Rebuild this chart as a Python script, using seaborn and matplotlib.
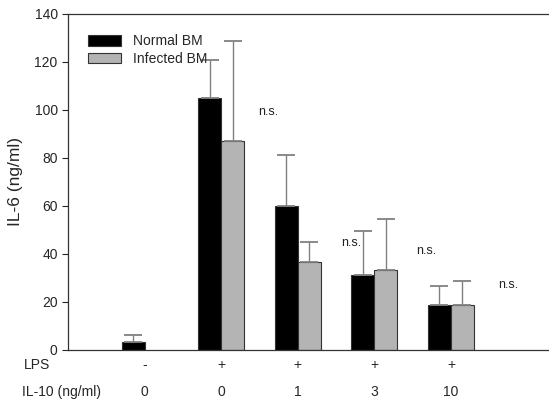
import matplotlib
matplotlib.use('Agg')
import matplotlib.pyplot as plt
import matplotlib.transforms as mtransforms
import seaborn as sns
import pandas as pd
import numpy as np

# %% Data
groups = ['ctrl', 'lps0', 'lps1', 'lps3', 'lps10']
lps_row = ['-', '+', '+', '+', '+']
il10_row = ['0', '0', '1', '3', '10']
normal_bm = [3.3, 104.8, 60.0, 31.0, 18.8]
normal_err = [3.0, 16.0, 21.0, 18.5, 7.9]
infected_bm = [np.nan, 86.8, 36.5, 33.3, 18.8]
infected_err = [np.nan, 42.0, 8.5, 21.4, 9.7]
# n.s. labels (group index, x offset, y)
ns_pos = [(1, 0.48, 99), (2, 0.57, 44.5), (3, 0.54, 41), (4, 0.61, 27)]

df = pd.DataFrame({
    'group': groups * 2,
    'IL6': normal_bm + infected_bm,
    'err': normal_err + infected_err,
    'cond': ['Normal BM'] * 5 + ['Infected BM'] * 5,
})

# %% Plot
sns.set_theme(style='ticks')
plt.rcParams['font.family'] = ['Liberation Sans', 'DejaVu Sans']

fig = plt.figure(figsize=(5.49, 4.04), dpi=100)
ax = fig.add_axes([0.124, 0.134, 0.876, 0.832])

sns.barplot(data=df, x='group', y='IL6', hue='cond', order=groups,
            hue_order=['Normal BM', 'Infected BM'],
            palette=['black', '#b4b4b4'], width=0.6, errorbar=None,
            edgecolor='#333333', linewidth=0.8, ax=ax)

# upward error bars (only the bars that were drawn)
for cont, cond in zip(ax.containers, ['Normal BM', 'Infected BM']):
    sub = df[df.cond == cond].dropna(subset=['IL6'])
    for bar, v, e in zip(cont, sub.IL6, sub.err):
        xc = bar.get_x() + bar.get_width() / 2
        ax.errorbar(xc, v, yerr=[[0], [e]], fmt='none', ecolor='#808080',
                    elinewidth=1, capsize=6.5, capthick=1.3, zorder=1)

for i, dx, y in ns_pos:
    ax.text(i + dx, y, 'n.s.', ha='left', va='center', fontsize=9, color='#222222')

ax.set_xlim(-1.0, 5.28)
ax.set_ylim(0, 140)
ax.set_yticks(np.arange(0, 141, 20))
ax.set_xticks([])
ax.set_xlabel('')
ax.set_ylabel('IL-6 (ng/ml)', fontsize=12.5, labelpad=8)
ax.tick_params(axis='y', labelsize=10, length=4, width=0.8)
for s in ['left', 'bottom', 'top']:
    ax.spines[s].set_linewidth(0.9)
    ax.spines[s].set_color('#333333')
ax.spines['right'].set_visible(False)

# two-row condition labels under the axis
trans = mtransforms.blended_transform_factory(ax.transData, fig.transFigure)
for i, (a, b) in enumerate(zip(lps_row, il10_row)):
    ax.text(i, 1 - 365 / 404, a, transform=trans, ha='center', va='center', fontsize=10)
    ax.text(i, 1 - 392 / 404, b, transform=trans, ha='center', va='center', fontsize=10)
fig.text(24 / 549, 1 - 365 / 404, 'LPS', ha='left', va='center', fontsize=10)
fig.text(22 / 549, 1 - 392 / 404, 'IL-10 (ng/ml)', ha='left', va='center', fontsize=10)

leg = ax.legend(loc='upper left', bbox_to_anchor=(0.03, 0.955), frameon=False,
                fontsize=10, handlelength=2.4, handleheight=0.8,
                labelspacing=0.25, borderaxespad=0)

fig.savefig('out.png', dpi=100)
